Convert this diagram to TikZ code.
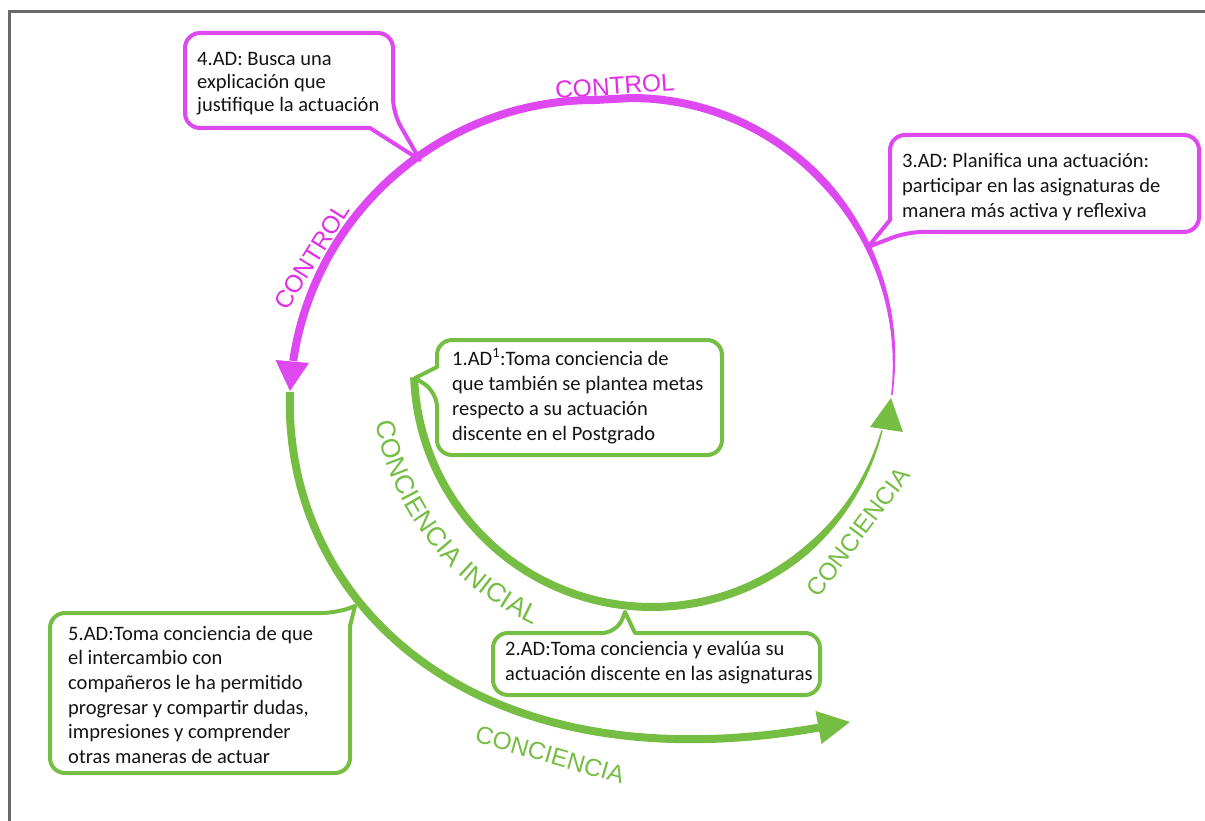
\documentclass[tikz,border=0pt]{standalone}
\usepackage{fontspec}
\setmainfont{Carlito}
\newfontfamily\lblfamily{Liberation Sans}
\usetikzlibrary{decorations.text,calc}
\definecolor{cmag}{RGB}{222,72,240}
\definecolor{cmagtext}{RGB}{228,44,232}
\definecolor{cgreen}{RGB}{118,190,67}
\definecolor{cframe}{RGB}{105,105,105}
\definecolor{ctext}{RGB}{20,20,20}
\begin{document}
\begin{tikzpicture}[x=1pt,y=1pt,
  declare function={wm(\t)=min(8,1.5+6.5*(\t+7.4)/50); wi(\t)=min(8,8-6.5*(\t-310)/35);},
  callout/.style={line width=4pt, fill=white, line join=round},
  boxtext/.style={anchor=north west, inner sep=0pt, align=left, text=ctext,
    font=\fontsize{20.5}{#1}\selectfont},
  boxtext/.default=25,
  arclabel/.style={font=\lblfamily\fontsize{24.5}{24.5}\selectfont, inner sep=0pt},
]
\useasboundingbox (0,0) rectangle (1205,-821);

% outer frame
\draw[cframe, line width=3pt] (1205,-11.5) -- (9,-11.5) -- (9,-821);

% control loop (magenta), tapering towards its start
\coordinate (mR) at (631,-361);
\coordinate (mL) at (595,-405);
\fill[cmag] plot[domain=-7.4:90, samples=70, variable=\t]
   ({631+(263+wm(\t)/2)*cos(\t)}, {-361+(263+wm(\t)/2)*sin(\t)})
 -- plot[domain=90:-7.4, samples=70, variable=\t]
   ({631+(263-wm(\t)/2)*cos(\t)}, {-361+(263-wm(\t)/2)*sin(\t)}) -- cycle;
\draw[cmag, line width=8pt] (631,-98) -- (595,-100)
   arc[start angle=90, end angle=171.7, radius=305];
\coordinate (mtip) at (290,-391);
\fill[cmag] (275.5,-360) -- (309,-363) -- (mtip) -- cycle;

% initial awareness loop (green), tapering towards its arrow
\coordinate (gC) at (652,-369);
\fill[cgreen] plot[domain=182:345, samples=100, variable=\t]
   ({652+(238+wi(\t)/2)*cos(\t)}, {-369+(238+wi(\t)/2)*sin(\t)})
 -- plot[domain=345:182, samples=100, variable=\t]
   ({652+(238-wi(\t)/2)*cos(\t)}, {-369+(238-wi(\t)/2)*sin(\t)}) -- cycle;
\coordinate (gtip) at (891,-398);
\fill[cgreen] (870,-427) -- (903,-432) -- (gtip) -- cycle;

% outer awareness sweep (green)
\coordinate (o0) at (290,-392);
\coordinate (o1) at (850,-722);
\draw[cgreen, line width=8pt, shorten >=28pt] (o0) .. controls (283,-600) and (470,-790) .. (o1);
\fill[cgreen] (815.5,-711) -- (821.5,-744) -- (o1) -- cycle;

% labels along the loops
\node[arclabel, text=cmagtext, rotate=4] (lc1) at (615,-86) {CONTROL};
\node[arclabel, text=cmagtext, rotate=58] (lc2) at (312,-256) {CONTROL};
\node[arclabel, text=cgreen, rotate=53] (lg1) at (858,-532) {CONCIENCIA};
\node[arclabel, text=cgreen, rotate=-16] (lg2) at (550,-755) {CONCIENCIA};
\path[decorate, decoration={text along path, text align=center,
   text={|\lblfamily\fontsize{26.5}{26.5}\selectfont\color{cgreen}|CONCIENCIA INICIAL}}]
   ($(gC)+(187:282)$) arc[start angle=187, end angle=249.2, radius=282];

% callout boxes
\draw[callout, draw=cmag] (290,-33) [rounded corners=15pt] -- (393,-33) -- (393,-113)
   [sharp corners] -- (420,-160) -- (370,-128) [rounded corners=15pt] -- (185,-128) -- (185,-33) -- cycle;
\node[boxtext=23.3] (t4) at (197,-48.7) {\strut 4.AD: Busca una\\ explicación que\\ justifique la actuación};

\draw[callout, draw=cmag] (1040,-135) [rounded corners=15pt] -- (1199,-135) -- (1199,-232) -- (907,-232)
   [sharp corners] -- (868,-247) -- (890,-220) [rounded corners=15pt] -- (890,-135) -- cycle;
\node[boxtext] (t3) at (902,-149.5) {\strut 3.AD: Planifica una actuación:\\ participar en las asignaturas de\\ manera más activa y reflexiva};

\draw[callout, draw=cgreen] (580,-340) [rounded corners=15pt] -- (722,-340) -- (722,-455) -- (437,-455) -- (437,-392)
   [sharp corners] -- (415,-378) -- (437,-367) [rounded corners=15pt] -- (437,-340) -- cycle;
\node[boxtext] (t1) at (452,-347.5) {\strut 1.AD\textsuperscript{1}:Toma conciencia de\\ que también se plantea metas\\ respecto a su actuación\\ discente en el Postgrado};

\draw[callout, draw=cgreen] (493,-664) [rounded corners=15pt] -- (493,-633) -- (617,-633)
   [sharp corners] -- (625,-612) -- (635,-633) [rounded corners=15pt] -- (820,-633) -- (820,-695) -- (493,-695) -- cycle;
\node[boxtext] (t2) at (505,-637.5) {\strut 2.AD:Toma conciencia y evalúa su\\ actuación discente en las asignaturas};

\draw[callout, draw=cgreen] (200,-613) [rounded corners=15pt] -- (337,-613)
   [sharp corners] -- (355,-606) -- (350,-626) [rounded corners=15pt] -- (350,-773) -- (50,-773) -- (50,-613) -- cycle;
\node[boxtext=24.6] (t5) at (68,-622.8) {\strut 5.AD:Toma conciencia de que\\ el intercambio con\\ compañeros le ha permitido\\ progresar y compartir dudas,\\ impresiones y comprender\\ otras maneras de actuar};
\end{tikzpicture}
\end{document}
